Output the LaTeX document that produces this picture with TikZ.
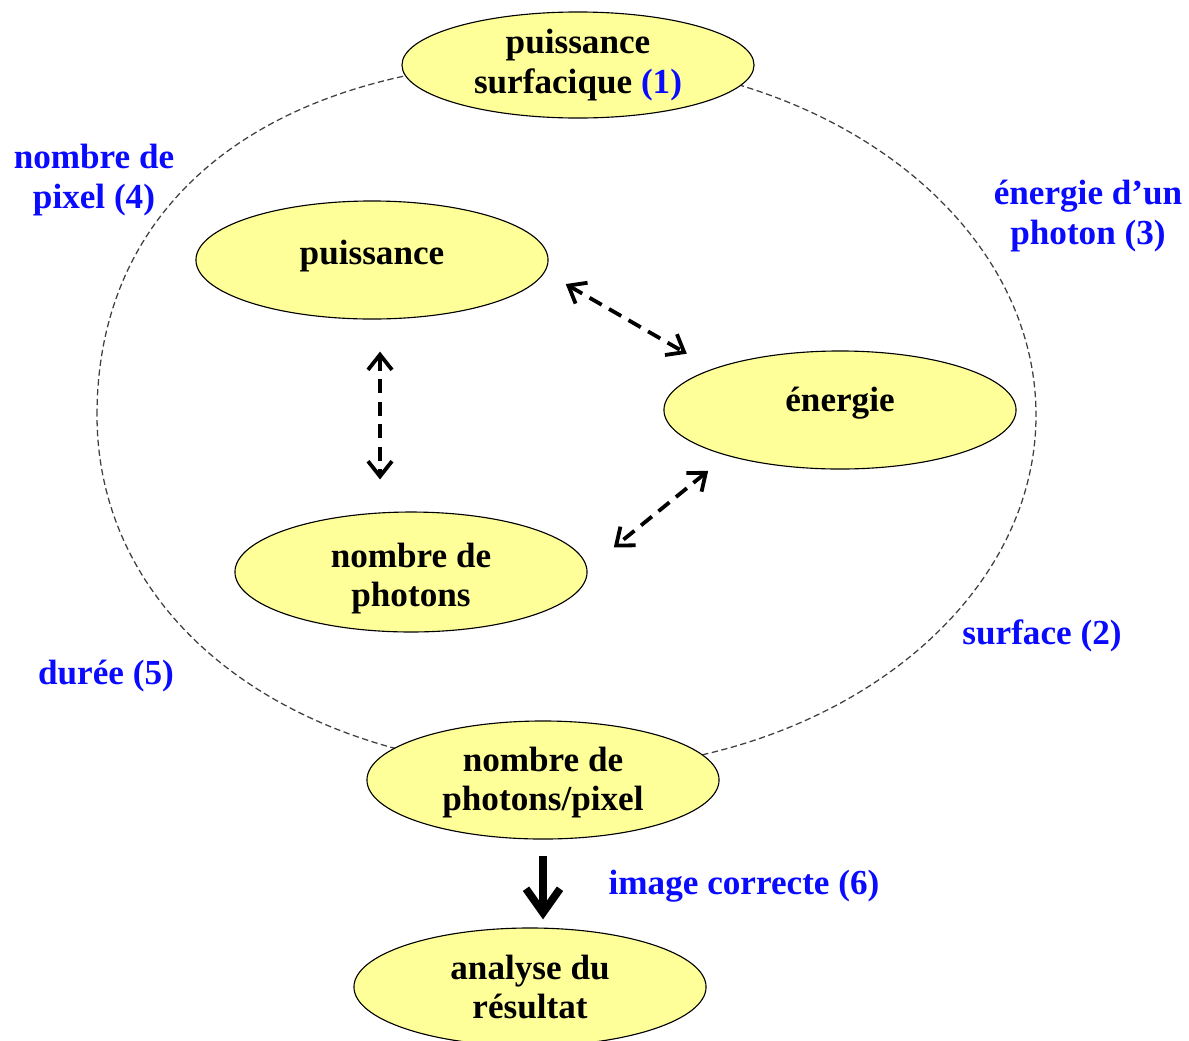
\documentclass[tikz,border=0pt]{standalone}
\usepackage{fontspec}
\setmainfont{Liberation Serif}
\definecolor{NodeYellow}{RGB}{255,255,153}
\definecolor{LabBlue}{RGB}{10,10,255}
\definecolor{RingGrey}{RGB}{64,64,64}
\usetikzlibrary{arrows.meta, shapes.geometric, positioning}

\begin{document}
\begin{tikzpicture}[x=0.025cm, y=-0.025cm,
	font=\fontsize{25}{28}\selectfont\bfseries,
	el/.style={ellipse, draw=black, line width=0.8pt, fill=NodeYellow, minimum width=8.8cm, minimum height=2.95cm, align=center, inner sep=0pt},
	lab/.style={text=LabBlue, align=center},
	dd/.style={{Straight Barb[length=3.8mm,width=6mm]}-{Straight Barb[length=3.8mm,width=6mm]}, line width=2.7pt, dash pattern=on 10pt off 6pt},
	big/.style={-{Straight Barb[length=6mm,width=8.5mm]}, line width=5.5pt},
	ring/.style={RingGrey, line width=0.9pt, dash pattern=on 4.5pt off 2.5pt}]
	\useasboundingbox (0,0) rectangle (1189,1040);
	\draw[ring] (97,415) .. controls (97,195) and (275,60) .. (566,60)
		.. controls (825,60) and (1036,219) .. (1036,415)
		.. controls (1036,611) and (825,770) .. (566,770)
		.. controls (294,770) and (97,621) .. (97,415) -- cycle;
	\node[el, minimum height=2.65cm] (surf) at (578,65) {puissance\\surfacique \textcolor{LabBlue}{(1)}};
	\node[el] (puis) at (372,260) {\raisebox{-3pt}[0pt][0pt]{puissance}};
	\node[el] (ener) at (840,410) {\raisebox{-1pt}[0pt][0pt]{énergie}};
	\node[el] (phot) at (411,572) {\rule{0pt}{27pt}nombre de\\photons};
	\node[el] (pix) at (543,780) {\rule{0pt}{21pt}nombre de\\photons/pixel};
	\node[el] (anal) at (530,987) {analyse du\\résultat};
	\node[lab] (l4) at (94,180) {nombre de\\pixel (4)};
	\node[lab] (l3) at (1088,216) {énergie d’un\\photon (3)};
	\node[lab] (l2) at (1042,636) {surface (2)};
	\node[lab] (l5) at (106,676) {durée (5)};
	\node[lab] (l6) at (744,886) {image correcte (6)};
	\draw[dd, shorten <=0.6cm, shorten >=0.75cm] (puis.-4) -- (ener.162);
	\draw[dd, shorten <=0.8cm, shorten >=0.8cm] ([xshift=0.2cm]puis.south) -- ([xshift=0.2cm]puis.south |- phot.north);
	\draw[dd, shorten <=0.6cm, shorten >=0.85cm] (ener.202) -- (phot.1);
	\draw[big, shorten <=0.42cm, shorten >=0.2cm] (pix.south) -- (pix.south |- anal.north);
\end{tikzpicture}
\end{document}
